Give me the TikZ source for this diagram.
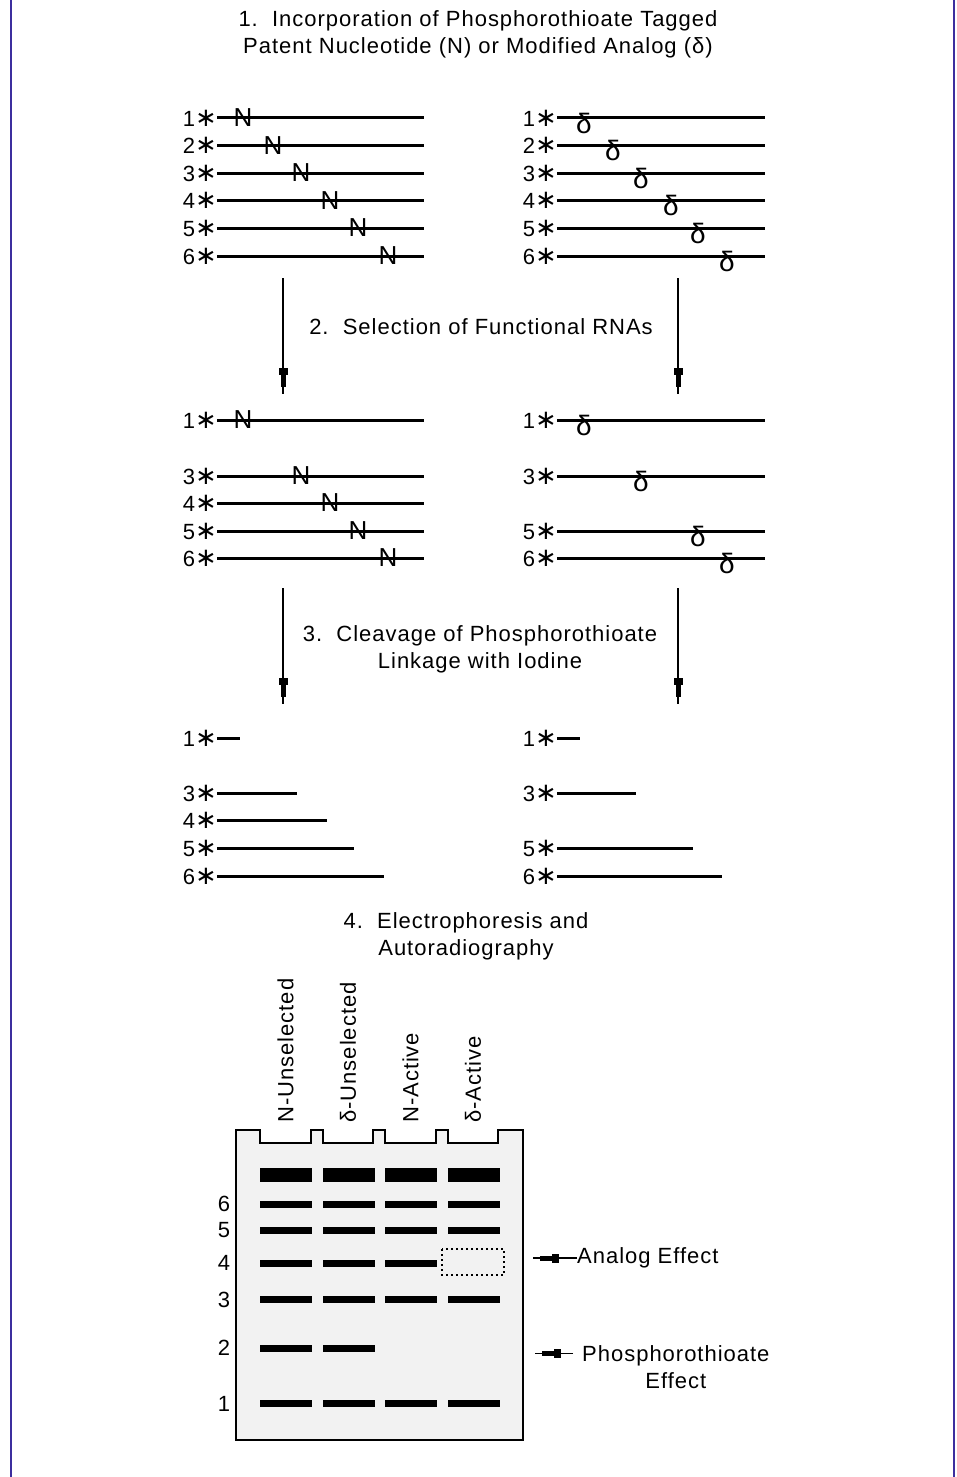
\documentclass[tikz,border=0pt]{standalone}
\usepackage{fontspec}
\setmainfont{Liberation Sans}[LetterSpace=4.5]
\newfontfamily\symfont{DejaVu Sans}
\usetikzlibrary{positioning}
\usetikzlibrary{decorations.markings}
\definecolor{edge}{HTML}{3C2E9E}
\definecolor{gelgray}{HTML}{F2F2F2}

\tikzset{
  every node/.style={inner sep=0pt, font=\fontsize{22}{27}\selectfont},
  strand/.style={line width=3pt},
  tag/.style={anchor=east},
  nmark/.style={font=\fontsize{26}{26}\selectfont},
  dmark/.style={font=\fontsize{28}{28}\selectfont},
  flow/.style={line width=1.4pt, postaction={decorate},
    decoration={markings, mark=at position -7pt with {
      \fill (-19pt,-4.5pt) rectangle (-12pt,4.5pt);
      \fill (-12pt,-2.5pt) rectangle (0pt,2.5pt);}}},
  dottedbox/.style={line width=1.2pt, dash pattern=on 2pt off 3pt},
}
\newcommand{\tagstar}{{\symfont\fontsize{26}{26}\selectfont ∗}}

\begin{document}
\begin{tikzpicture}[x=1pt,y=-1pt]
\useasboundingbox (0,0) rectangle (956,1477);
\draw[edge, line width=1.5pt] (11,0) -- (11,1477);
\draw[edge, line width=1.5pt] (954,0) -- (954,1477);

% step texts
\node[align=center] (st1) at (478,34.5) {1.\ \ Incorporation of Phosphorothioate Tagged\\Patent Nucleotide (N) or Modified Analog (δ)};
\node (st2) at (481,327) {2.\ \ Selection of Functional RNAs};
\node[align=center] (st3) at (480,649) {3.\ \ Cleavage of Phosphorothioate\\Linkage with Iodine};
\node[align=center] (st4) at (466,936) {4.\ \ Electrophoresis and\\Autoradiography};

% tagged strands
\foreach \i/\y/\x in {1/118/243, 2/145.5/273, 3/173/301, 4/200.5/330, 5/228/358, 6/256/388} {
  \node[tag] (ta\i) at (217,\y) {\i\tagstar};
  \draw[strand] (ta\i.east) -- (424,\y);
  \node[nmark] (tn\i) at (\x,\y) {N};
}
\foreach \i/\y/\x in {1/118/584, 2/145.5/613, 3/173/641, 4/200.5/671, 5/228/698, 6/256/727} {
  \node[tag] (tb\i) at (557,\y) {\i\tagstar};
  \draw[strand] (tb\i.east) -- (765,\y);
  \node[dmark] (td\i) at (\x,\y+5) {δ};
}

% selection
\coordinate (d1a) at (283,278); \coordinate (d1b) at (283,394);
\coordinate (d2a) at (678,278); \coordinate (d2b) at (678,394);
\draw[flow] (d1a) -- (d1b);
\draw[flow] (d2a) -- (d2b);

% selected strands
\foreach \i/\y/\x in {1/420/243, 3/476/301, 4/503/330, 5/531/358, 6/558/388} {
  \node[tag] (sa\i) at (217,\y) {\i\tagstar};
  \draw[strand] (sa\i.east) -- (424,\y);
  \node[nmark] (sn\i) at (\x,\y) {N};
}
\foreach \i/\y/\x in {1/420/584, 3/476/641, 5/531/698, 6/558/727} {
  \node[tag] (sb\i) at (557,\y) {\i\tagstar};
  \draw[strand] (sb\i.east) -- (765,\y);
  \node[dmark] (sd\i) at (\x,\y+5) {δ};
}

% cleavage
\coordinate (d3a) at (283,588); \coordinate (d3b) at (283,704);
\coordinate (d4a) at (678,588); \coordinate (d4b) at (678,704);
\draw[flow] (d3a) -- (d3b);
\draw[flow] (d4a) -- (d4b);

% cleaved strands
\foreach \i/\y/\e in {1/738/240, 3/793/297, 4/820.5/327, 5/848/354, 6/876/384} {
  \node[tag] (ca\i) at (217,\y) {\i\tagstar};
  \draw[strand] (ca\i.east) -- (\e,\y);
}
\foreach \i/\y/\e in {1/738/580, 3/793/636, 5/848/693, 6/876/722} {
  \node[tag] (cb\i) at (557,\y) {\i\tagstar};
  \draw[strand] (cb\i.east) -- (\e,\y);
}

% gel
\filldraw[fill=gelgray, line width=1.5pt] (236,1440) -- (236,1130) -- (260,1130) -- (260,1143)
  -- (311,1143) -- (311,1130) -- (323,1130) -- (323,1143) -- (373,1143) -- (373,1130)
  -- (385,1130) -- (385,1143) -- (436,1143) -- (436,1130) -- (448,1130) -- (448,1143)
  -- (498,1143) -- (498,1130) -- (523,1130) -- (523,1440) -- cycle;
\foreach \n/\lx/\txt in {1/285.5/N-Unselected, 2/348/δ-Unselected, 3/410.5/N-Active, 4/473/δ-Active}
  \node[rotate=90, anchor=west] (lane\n) at (\lx,1123) {\txt};
\foreach \lx in {259.5,322.5,384.5,447.5} {
  \fill (\lx,1168) rectangle ++(52,14);
  \foreach \by in {1204,1230,1299.5,1403.5}
    \fill (\lx,\by-3.5) rectangle ++(52,7);
}
\foreach \lx in {259.5,322.5,384.5}
  \fill (\lx,1259.5) rectangle ++(52,7);
\foreach \lx in {259.5,322.5}
  \fill (\lx,1344.5) rectangle ++(52,7);
\draw[dottedbox] (442,1249) rectangle (504,1275);
\foreach \b/\y in {6/1204, 5/1230, 4/1263, 3/1299.5, 2/1348, 1/1403.5}
  \node (g\b) at (224,\y) {\b};

% effects
\node[anchor=west] (analog) at (577,1258) {Analog Effect};
\draw[flow] (analog.west) -- ++(-44,0);
\node[anchor=west, align=center] (thio) at (582,1367) {Phosphorothioate\\Effect};
\draw[flow] ([xshift=-9pt,yshift=13.5pt]thio.west) -- ++(-38,0);
\end{tikzpicture}
\end{document}
